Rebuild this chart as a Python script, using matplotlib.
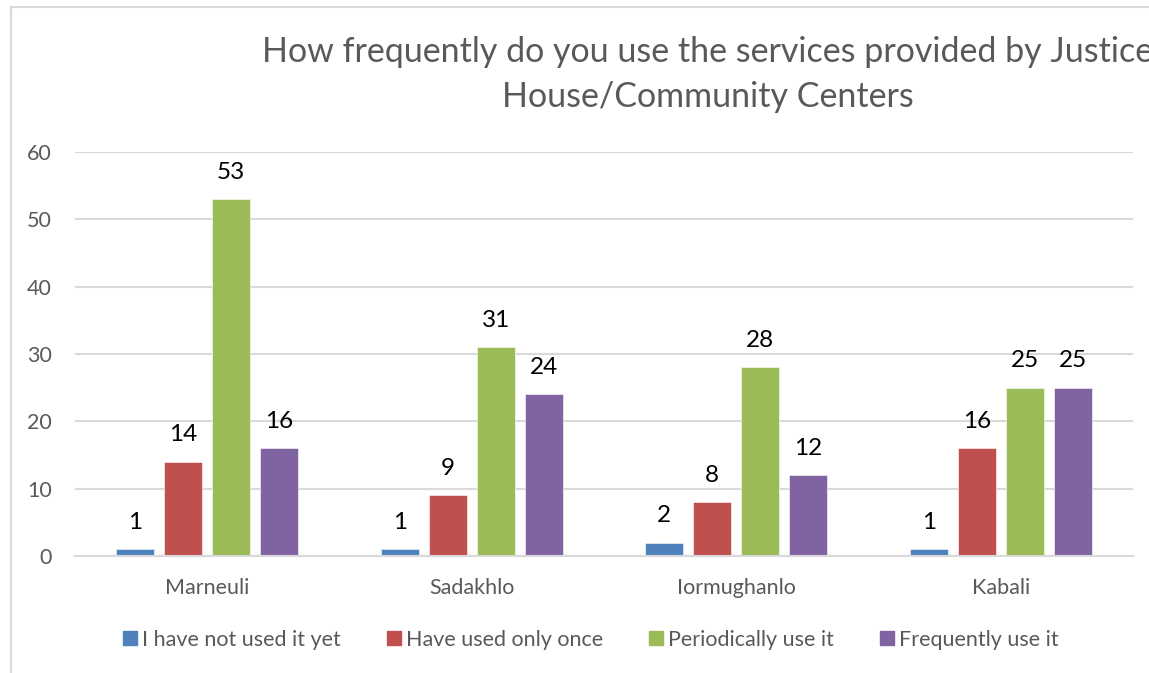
import matplotlib
matplotlib.use("Agg")
import matplotlib.pyplot as plt
from matplotlib.patches import Rectangle
from matplotlib.lines import Line2D
import numpy as np

plt.rcParams['font.family'] = ['Lato', 'DejaVu Sans']

categories = ["Marneuli", "Sadakhlo", "Iormughanlo", "Kabali"]
series_names = ["I have not used it yet", "Have used only once",
                "Periodically use it", "Frequently use it"]
not_used_yet = [1, 1, 2, 1]
used_once = [14, 9, 8, 16]
periodically = [53, 31, 28, 25]
frequently = [16, 24, 12, 25]
series_values = [not_used_yet, used_once, periodically, frequently]
colors = ["#4F81BD", "#C0504D", "#9BBB59", "#8064A2"]
y_ticks = [0, 10, 20, 30, 40, 50, 60]
title_lines = ["How frequently do you use the services provided by Justice",
               "House/Community Centers"]

W, H = 1149, 673
fig = plt.figure(figsize=(W / 100, H / 100), dpi=100)

# outer chart frame
fig.add_artist(Line2D([11 / W, 11 / W], [0, 1 - 7 / H], transform=fig.transFigure,
                      color="#D9D9D9", lw=1.5))
fig.add_artist(Line2D([11 / W, 1], [1 - 7 / H, 1 - 7 / H], transform=fig.transFigure,
                      color="#D9D9D9", lw=1.5))

left, right, top, bottom = 75, 1133, 152, 556
ax = fig.add_axes([left / W, (H - bottom) / H, (right - left) / W, (bottom - top) / H])

x = np.arange(len(categories))
bar_w = 0.1437
step = 0.1815
offsets = (np.arange(4) - 1.5) * step
for vals, off, c, name in zip(series_values, offsets, colors, series_names):
    bars = ax.bar(x + off, vals, width=bar_w, color=c, label=name,
                  edgecolor="white", linewidth=0.4)
    for b, v in zip(bars, vals):
        ax.annotate(str(v), (b.get_x() + b.get_width() / 2, v),
                    xytext=(0, 19.5), textcoords="offset points",
                    ha="center", va="center", fontsize=17.5, color="black")

ax.set_xlim(-0.5, len(categories) - 0.5)
ax.set_ylim(0, 60)
ax.set_yticks(y_ticks)
ax.set_xticks(x)
ax.set_xticklabels(categories)
ax.tick_params(axis="both", length=0, labelsize=15.5, labelcolor="#595959")
ax.tick_params(axis="y", pad=16.5)
ax.tick_params(axis="x", pad=15.5)
ax.grid(axis="y", color="#D9D9D9", lw=1.5)
ax.set_axisbelow(True)
for s in ["top", "right", "left"]:
    ax.spines[s].set_visible(False)
ax.spines["bottom"].set_color("#D9D9D9")
ax.spines["bottom"].set_linewidth(1.5)

for line, yc in zip(title_lines, [52, 97]):
    fig.text(708 / W, 1 - yc / H, line, ha="center", va="center",
             fontsize=24.5, color="#595959")

handles = [Rectangle((0, 0), 1, 1, color=c) for c in colors]
fig.legend(handles, series_names, loc="center", bbox_to_anchor=(591 / W, 1 - 640 / H),
           ncol=4, frameon=False, fontsize=15.5, labelcolor="#595959",
           handlelength=0.63, handleheight=0.63, handletextpad=0.25, columnspacing=2.15)

fig.savefig("out.png", dpi=100)
